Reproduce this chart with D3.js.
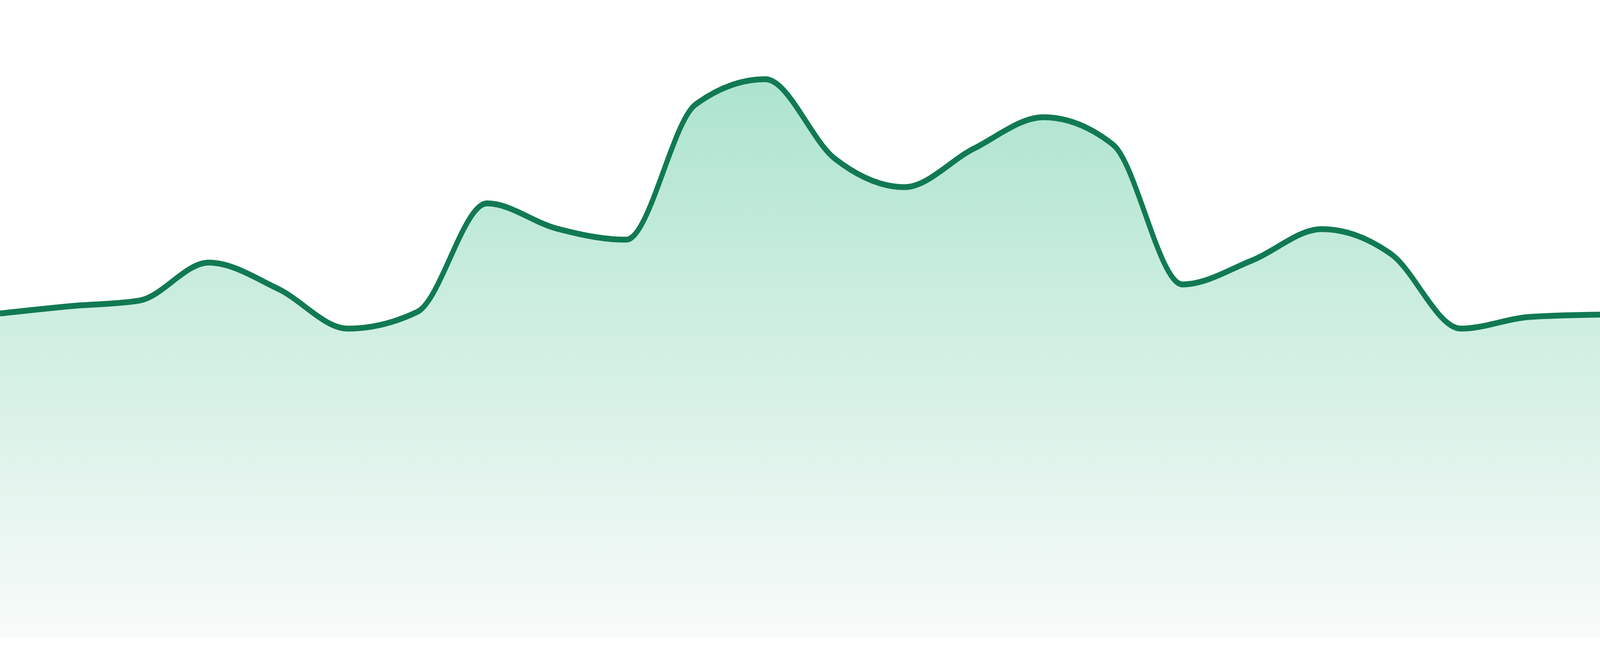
<!DOCTYPE html>
<html>
<head>
<meta charset="utf-8">
<script src="https://cdn.jsdelivr.net/npm/d3@7"></script>
<style>
  html, body { margin: 0; padding: 0; background: #ffffff; overflow: hidden; width: 100%; height: 100%; }
  #chart { position: fixed; left: 0; top: 0; width: 100vw; height: 100vh; }
  svg { display: block; width: 100%; height: 100%; }
</style>
</head>
<body>
<div id="chart"></div>
<script>
// ---- data ----
const categories = d3.range(24).map(i => "P" + (i + 1));
const values = [57.9, 59.2, 60.2, 67.0, 62.3, 55.2, 58.2, 77.6, 73.1, 71.1, 95.3, 99.8,
                85.6, 80.5, 87.4, 93.0, 88.1, 63.1, 67.4, 73.0, 68.5, 55.2, 57.3, 57.7];
const yDomain = [0, 100];

// ---- layout (design space; scaled to the window by the viewBox) ----
const W = 4800, H = 1680;
const plotBottom = 1632, plotTop = 200;

const svg = d3.select("#chart").append("svg")
  .attr("viewBox", `0 0 ${W} ${H}`)
  .attr("preserveAspectRatio", "none");

svg.append("rect").attr("width", W).attr("height", H).attr("fill", "#ffffff");

const x = d3.scalePoint().domain(categories).range([0, W]);
const y = d3.scaleLinear().domain(yDomain).range([plotBottom, plotTop]);

const data = categories.map((c, i) => ({ c, v: values[i] }));

const defs = svg.append("defs");
const grad = defs.append("linearGradient")
  .attr("id", "areaGrad")
  .attr("gradientUnits", "userSpaceOnUse")
  .attr("x1", 0).attr("x2", 0)
  .attr("y1", y(d3.max(values))).attr("y2", plotBottom);
grad.append("stop").attr("offset", "0%").attr("stop-color", "#ade4cd");
grad.append("stop").attr("offset", "100%").attr("stop-color", "#f8fbfa");

const area = d3.area()
  .x(d => x(d.c))
  .y0(plotBottom)
  .y1(d => y(d.v))
  .curve(d3.curveMonotoneX);

const line = d3.line()
  .x(d => x(d.c))
  .y(d => y(d.v))
  .curve(d3.curveMonotoneX);

svg.append("path").datum(data)
  .attr("d", area)
  .attr("fill", "url(#areaGrad)");

svg.append("path").datum(data)
  .attr("d", line)
  .attr("fill", "none")
  .attr("stroke", "#117a52")
  .attr("stroke-width", 15)
  .attr("stroke-linejoin", "round")
  .attr("stroke-linecap", "butt");
</script>
</body>
</html>
